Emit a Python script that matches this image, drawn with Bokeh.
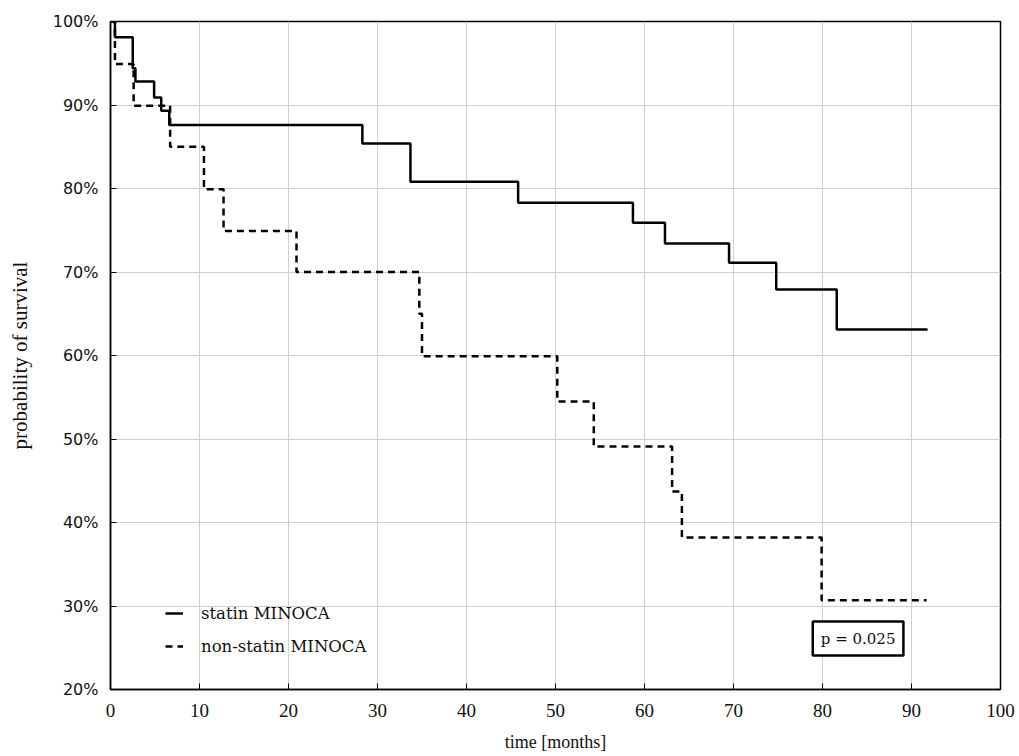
from bokeh.plotting import figure
from bokeh.models import (ColumnDataSource, FixedTicker, PrintfTickFormatter,
                          Legend, LegendItem, Label, Range1d)
from bokeh.embed import file_html
from bokeh.resources import INLINE

# ---- data ----
statin_time = [0, 0.5, 2.5, 2.8, 4.9, 5.7, 6.6, 28.3, 33.7, 45.8, 58.7, 62.3, 69.5, 74.8, 81.6, 91.8]
statin_surv = [100, 98.1, 94.4, 92.8, 90.9, 89.3, 87.6, 85.4, 80.8, 78.3, 75.9, 73.4, 71.1, 67.9, 63.1, 63.1]

nonstatin_time = [0, 0.5, 2.6, 6.7, 10.5, 12.7, 20.9, 34.7, 35.0, 50.2, 54.3, 63.1, 64.2, 79.9, 91.7]
nonstatin_surv = [100, 94.9, 89.9, 85.0, 79.9, 74.9, 70.0, 65.0, 59.9, 54.5, 49.1, 43.7, 38.2, 30.7, 30.7]

x_ticks = [0, 10, 20, 30, 40, 50, 60, 70, 80, 90, 100]
y_ticks = [20, 30, 40, 50, 60, 70, 80, 90, 100]
labels = ["statin MINOCA", "non-statin MINOCA"]
p_text = "p = 0.025"

SERIF = "Liberation Serif"

p = figure(width=1019, height=756, output_backend="svg", toolbar_location=None,
           x_range=Range1d(0, 100), y_range=Range1d(20, 100),
           min_border_left=110, min_border_right=19, min_border_top=21, min_border_bottom=67)

p.outline_line_color = "black"
p.outline_line_width = 1.5
p.background_fill_color = "white"
p.border_fill_color = "white"

# axes
p.xaxis.ticker = FixedTicker(ticks=x_ticks)
p.yaxis.ticker = FixedTicker(ticks=y_ticks)
p.yaxis.formatter = PrintfTickFormatter(format="%d%%")
for ax in (p.xaxis[0], p.yaxis[0]):
    ax.axis_line_color = "black"
    ax.axis_line_width = 1.5
    ax.major_tick_in = 6
    ax.major_tick_out = 0
    ax.major_tick_line_color = "black"
    ax.minor_tick_line_color = None
    ax.major_label_text_color = "#111111"
    ax.axis_label_text_font = SERIF
    ax.axis_label_text_font_style = "normal"
    ax.axis_label_text_color = "#111111"

p.xaxis.major_label_text_font = SERIF
p.xaxis.major_label_text_font_size = "19px"
p.xaxis.major_label_standoff = 14
p.xaxis.axis_label = "time [months]"
p.xaxis.axis_label_text_font_size = "18px"
p.xaxis.axis_label_standoff = 12

p.yaxis.major_label_text_font = "DejaVu Sans"
p.yaxis.major_label_text_font_size = "16px"
p.yaxis.major_label_standoff = 12
p.yaxis.axis_label = "probability of survival"
p.yaxis.axis_label_text_font_size = "21px"
p.yaxis.axis_label_standoff = 18

# grid
p.xgrid.ticker = FixedTicker(ticks=x_ticks)
p.ygrid.ticker = FixedTicker(ticks=y_ticks)
p.grid.grid_line_color = "#cfcfcf"
p.grid.grid_line_width = 1

# curves
src_s = ColumnDataSource(dict(t=statin_time, s=statin_surv))
src_n = ColumnDataSource(dict(t=nonstatin_time, s=nonstatin_surv))
r_s = p.step("t", "s", source=src_s, mode="after", line_color="black", line_width=2.5)
r_n = p.step("t", "s", source=src_n, mode="after", line_color="black", line_width=2.5,
             line_dash="7 5")

legend = Legend(items=[LegendItem(label=labels[0], renderers=[r_s]),
                       LegendItem(label=labels[1], renderers=[r_n])],
                location=(55, 33), orientation="vertical",
                background_fill_alpha=0, border_line_color=None,
                label_text_font="DejaVu Serif", label_text_font_size="16.5px",
                label_text_color="#111111",
                glyph_width=18, glyph_height=20, label_height=20,
                label_standoff=18, spacing=13, padding=0, margin=0)
p.add_layout(legend)

pl = Label(x=84, y=26.1, text=p_text, text_align="center", text_baseline="middle",
           text_font="DejaVu Serif", text_font_size="15px", text_font_style="normal",
           text_color="#111111",
           border_line_color="black", border_line_width=2.5,
           background_fill_color="white", padding=8)
p.add_layout(pl)

open("out.html", "w").write(file_html(p, INLINE))
